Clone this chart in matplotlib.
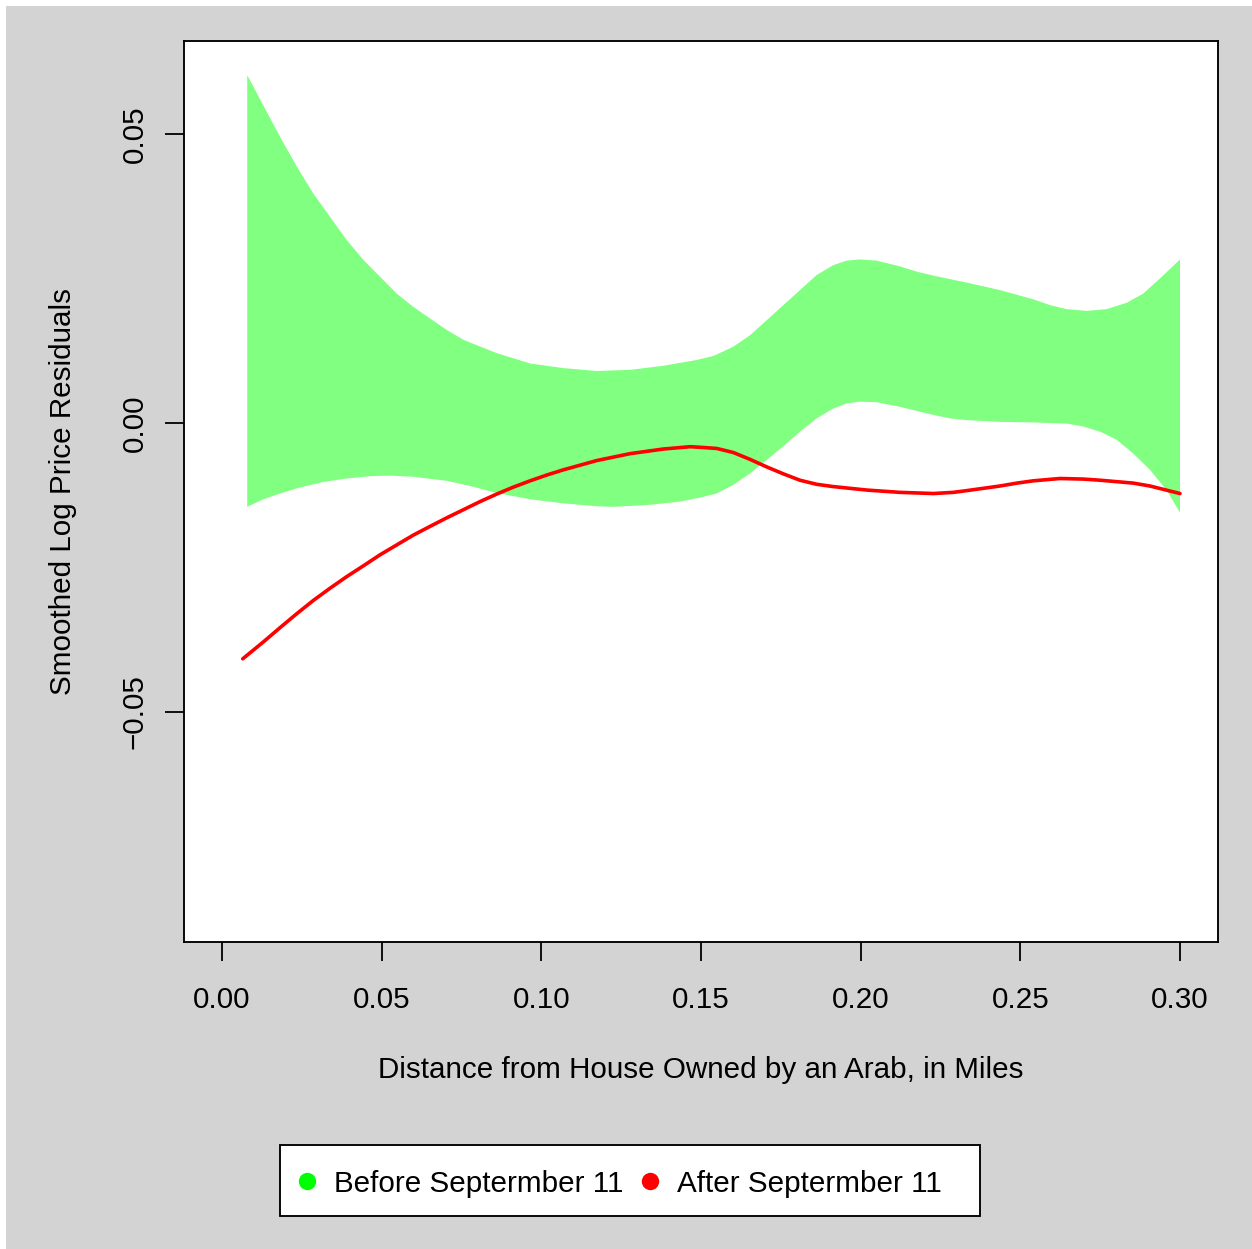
import matplotlib
matplotlib.use("Agg")
import matplotlib.pyplot as plt
from matplotlib.patches import Rectangle
from matplotlib.lines import Line2D
import numpy as np

# ---- data ----
upper_x = [0.0079, 0.0129, 0.0182, 0.0234, 0.0286, 0.0338, 0.0390, 0.0443, 0.0495, 0.0547,
           0.0599, 0.0651, 0.0704, 0.0756, 0.0860, 0.0965, 0.1069, 0.1173, 0.1278, 0.1382,
           0.1486, 0.1539, 0.1601, 0.1654, 0.1706, 0.1758, 0.1810, 0.1862, 0.1914, 0.1956,
           0.1998, 0.2050, 0.2123, 0.2175, 0.2228, 0.2280, 0.2332, 0.2436, 0.2541, 0.2593,
           0.2645, 0.2708, 0.2770, 0.2833, 0.2885, 0.2937, 0.3000]
upper_y = [0.0602, 0.0550, 0.0495, 0.0444, 0.0397, 0.0357, 0.0317, 0.0282, 0.0253, 0.0224,
           0.0201, 0.0181, 0.0161, 0.0144, 0.0121, 0.0103, 0.0095, 0.0090, 0.0092, 0.0099,
           0.0109, 0.0116, 0.0132, 0.0152, 0.0178, 0.0204, 0.0230, 0.0256, 0.0273, 0.0281,
           0.0283, 0.0281, 0.0271, 0.0262, 0.0255, 0.0249, 0.0243, 0.0230, 0.0214, 0.0204,
           0.0197, 0.0194, 0.0197, 0.0208, 0.0224, 0.0250, 0.0283]

lower_x = [0.0079, 0.0129, 0.0182, 0.0234, 0.0317, 0.0390, 0.0464, 0.0526, 0.0599, 0.0704,
           0.0777, 0.0860, 0.0965, 0.1069, 0.1173, 0.1225, 0.1330, 0.1434, 0.1497, 0.1549,
           0.1601, 0.1654, 0.1706, 0.1758, 0.1810, 0.1862, 0.1914, 0.1956, 0.1998, 0.2050,
           0.2123, 0.2228, 0.2280, 0.2332, 0.2436, 0.2541, 0.2645, 0.2697, 0.2750, 0.2802,
           0.2854, 0.2906, 0.2958, 0.3000]
lower_y = [-0.0145, -0.0132, -0.0122, -0.0113, -0.0102, -0.0096, -0.0092, -0.0091, -0.0093, -0.0100,
           -0.0109, -0.0121, -0.0132, -0.0139, -0.0144, -0.0145, -0.0142, -0.0136, -0.0129, -0.0122,
           -0.0107, -0.0087, -0.0064, -0.0040, -0.0015, 0.0008, 0.0025, 0.0034, 0.0037, 0.0036,
           0.0028, 0.0014, 0.0008, 0.0005, 0.0002, 0.0001, -0.0001, -0.0006, -0.0015, -0.0029,
           -0.0053, -0.0081, -0.0116, -0.0155]

after_x = [0.0065, 0.0129, 0.0182, 0.0234, 0.0286, 0.0338, 0.0390, 0.0443, 0.0495, 0.0547,
           0.0599, 0.0651, 0.0704, 0.0756, 0.0808, 0.0860, 0.0912, 0.0965, 0.1017, 0.1069,
           0.1173, 0.1278, 0.1382, 0.1466, 0.1497, 0.1549, 0.1601, 0.1654, 0.1706, 0.1758,
           0.1810, 0.1862, 0.1914, 0.2019, 0.2123, 0.2228, 0.2290, 0.2332, 0.2436, 0.2489,
           0.2541, 0.2624, 0.2697, 0.2750, 0.2854, 0.2906, 0.3000]
after_y = [-0.0408, -0.0379, -0.0354, -0.0330, -0.0307, -0.0286, -0.0266, -0.0247, -0.0228, -0.0211,
           -0.0194, -0.0179, -0.0164, -0.0150, -0.0136, -0.0123, -0.0111, -0.0100, -0.0090, -0.0081,
           -0.0065, -0.0053, -0.0045, -0.0041, -0.0042, -0.0044, -0.0051, -0.0063, -0.0076, -0.0088,
           -0.0099, -0.0106, -0.0110, -0.0116, -0.0120, -0.0122, -0.0120, -0.0117, -0.0109, -0.0104,
           -0.0100, -0.0096, -0.0097, -0.0099, -0.0104, -0.0109, -0.0122]

x_ticks = [0.00, 0.05, 0.10, 0.15, 0.20, 0.25, 0.30]
y_ticks = [-0.05, 0.00, 0.05]
legend_labels = ["Before Septermber 11", "After Septermber 11"]

# ---- figure ----
W, H, DPI = 1252, 1249, 100
plt.rcParams['font.family'] = ['Liberation Sans', 'DejaVu Sans']
FS = 21.3
fig = plt.figure(figsize=(W / DPI, H / DPI), dpi=DPI, facecolor='white')

def fx(px):
    return px / W

def fy(py):
    return 1 - py / H

# gray background
fig.patches.append(Rectangle((fx(6), 0), 1 - fx(6), fy(6), transform=fig.transFigure,
                             facecolor='#D3D3D3', edgecolor='none', zorder=-10))

ax = fig.add_axes([fx(184), fy(942), fx(1218) - fx(184), fy(41) - fy(942)])
ax.set_facecolor('white')

# confidence band: polygon along upper edge then back along lower edge
poly_x = list(upper_x) + list(lower_x[::-1])
poly_y = list(upper_y) + list(lower_y[::-1])
ax.fill(poly_x, poly_y, color='#80FF80', linewidth=0, zorder=1)
ax.plot(after_x, after_y, color='#FF0000', lw=2.6, zorder=2,
        solid_capstyle='round', solid_joinstyle='round')

ax.set_xlim(-0.0119, 0.3119)
ax.set_ylim(-0.0898, 0.0661)
ax.set_xticks(x_ticks)
ax.set_xticklabels([f"{v:.2f}" for v in x_ticks])
ax.set_yticks(y_ticks)
ax.set_yticklabels([f"{v:.2f}".replace('-', '\u2212') for v in y_ticks])
ax.tick_params(axis='both', direction='out', length=13.5, width=1.3, labelsize=FS, colors='black')
ax.tick_params(axis='x', pad=18)
ax.tick_params(axis='y', pad=12, labelrotation=90)
for t in ax.get_yticklabels():
    t.set_va('center')
for s in ax.spines.values():
    s.set_linewidth(1.35)
    s.set_color('black')

ax.set_xlabel("Distance from House Owned by an Arab, in Miles", fontsize=FS, va='baseline')
ax.xaxis.set_label_coords(fx(701), fy(1078), transform=fig.transFigure)
ax.set_ylabel("Smoothed Log Price Residuals", fontsize=FS, va='baseline', ha='center',
              rotation=90, rotation_mode='anchor')
ax.yaxis.set_label_coords(fx(71), fy(491.5), transform=fig.transFigure)

# legend box
fig.patches.append(Rectangle((fx(280), fy(1216)), fx(980) - fx(280), fy(1145) - fy(1216),
                             transform=fig.transFigure, facecolor='white', edgecolor='black',
                             linewidth=1.35, zorder=5))
for cx, tx, col, lab in [(307, 334, '#00FF00', legend_labels[0]),
                         (650, 677, '#FF0000', legend_labels[1])]:
    fig.lines.append(Line2D([fx(cx)], [fy(1181)], marker='o', markersize=11.5, color=col,
                            linestyle='none', transform=fig.transFigure, zorder=6))
    fig.text(fx(tx), fy(1192), lab, fontsize=FS, va='baseline', ha='left', zorder=6)

fig.savefig("out.png", dpi=DPI, facecolor=fig.get_facecolor())
